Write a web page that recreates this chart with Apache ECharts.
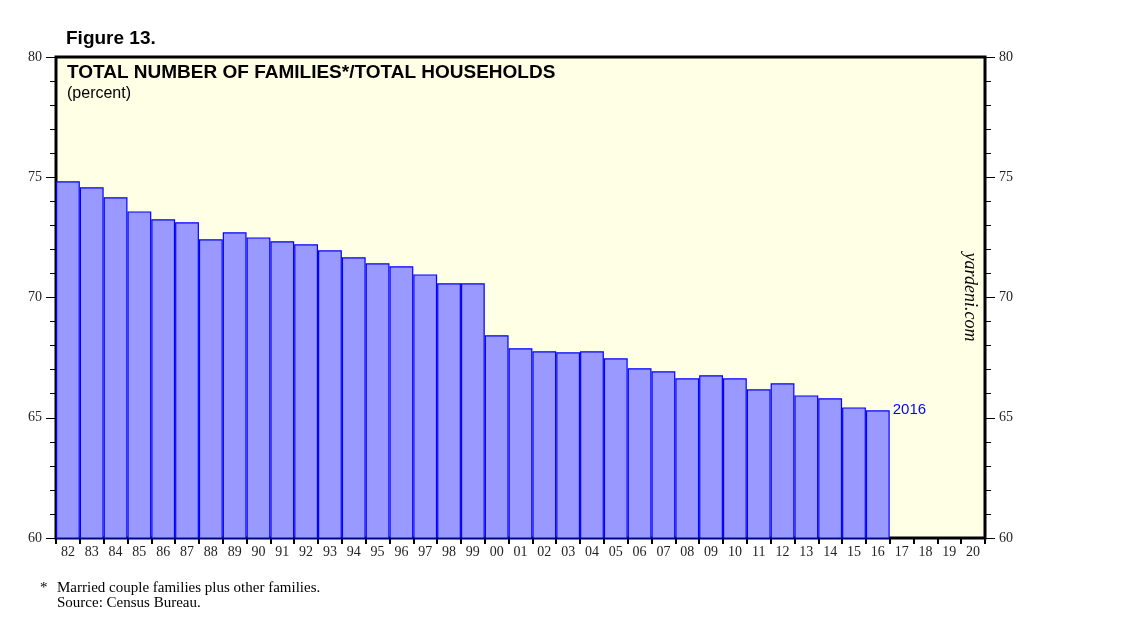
<!DOCTYPE html>
<html><head><meta charset="utf-8">
<script src="https://cdn.jsdelivr.net/npm/echarts@6/dist/echarts.min.js"></script>
<style>html,body{margin:0;padding:0;background:#fff;}#c{width:1138px;height:633px;}</style>
</head><body><div id="c"></div>
<script>
const categories = ['82','83','84','85','86','87','88','89','90','91','92','93','94','95','96','97','98','99','00','01','02','03','04','05','06','07','08','09','10','11','12','13','14','15','16','17','18','19','20'];
const familiesShare = [74.83,74.58,74.17,73.58,73.25,73.13,72.42,72.71,72.50,72.34,72.21,71.96,71.67,71.42,71.30,70.96,70.59,70.59,68.43,67.89,67.76,67.72,67.76,67.47,67.06,66.93,66.64,66.77,66.64,66.18,66.43,65.93,65.81,65.43,65.31,null,null,null,null];
const yTicks = [60,65,70,75,80];
const lastLabel = '2016';

const serif = 'Liberation Serif';
const sans = 'Liberation Sans';
const lastIdx = familiesShare.reduce((a,v,i)=> v!=null ? i : a, 0);
const barData = familiesShare.map((v,i)=> i===lastIdx ? {value:v,label:{show:true,position:['100%',0],align:'left',verticalAlign:'middle',formatter:lastLabel,color:'#0000ff',fontFamily:sans,fontSize:15,offset:[3,0]}} : v);

const yAxisBase = {
  type:'value', min:yTicks[0], max:yTicks[yTicks.length-1], interval:5,
  splitLine:{show:false},
  axisLine:{show:true,lineStyle:{color:'#000',width:1}},
  axisTick:{show:true,inside:false,length:10,lineStyle:{color:'#000'}},
  minorTick:{show:true,splitNumber:5,length:6,lineStyle:{color:'#000'}},
  axisLabel:{fontFamily:serif,fontSize:14,color:'#222',margin:14}
};

const chart = echarts.init(document.getElementById('c'));
chart.setOption({
  animation:false,
  backgroundColor:'#fff',
  grid:{left:56,right:153,top:57,bottom:95,show:true,backgroundColor:'#ffffe6',borderColor:'#000',borderWidth:3},
  xAxis:{
    type:'category', data:categories,
    axisLine:{show:true,lineStyle:{color:'#000',width:1}},
    axisTick:{show:true,alignWithLabel:false,length:6,lineStyle:{color:'#000',width:2}},
    axisLabel:{fontFamily:serif,fontSize:14,color:'#222',margin:7,interval:0}
  },
  yAxis:[
    Object.assign({}, yAxisBase, {position:'left'}),
    Object.assign({}, yAxisBase, {position:'right'})
  ],
  series:[{
    type:'bar', data:barData, barCategoryGap:'0%',
    itemStyle:{color:'#9999ff',borderColor:'#0000ff',borderWidth:1.2},
    yAxisIndex:0
  }],
  graphic:[
    {type:'text',left:66,top:29,style:{text:'Figure 13.',font:'bold 19px "Liberation Sans"',fill:'#000'}},
    {type:'text',left:67,top:63,style:{text:'TOTAL NUMBER OF FAMILIES*/TOTAL HOUSEHOLDS',font:'bold 19px "Liberation Sans"',fill:'#000'}},
    {type:'text',left:67,top:86,style:{text:'(percent)',font:'16px "Liberation Sans"',fill:'#000'}},
    {type:'text',x:970,y:297,rotation:-Math.PI/2,style:{text:'yardeni.com',font:'italic 18px "Liberation Serif"',fill:'#000',align:'center',verticalAlign:'middle'}},
    {type:'text',left:40,top:581,style:{text:'*',font:'15px "Liberation Serif"',fill:'#000'}},
    {type:'text',left:57,top:581,style:{text:'Married couple families plus other families.\nSource: Census Bureau.',font:'15px "Liberation Serif"',fill:'#000',lineHeight:15}}
  ]
});
</script></body></html>
